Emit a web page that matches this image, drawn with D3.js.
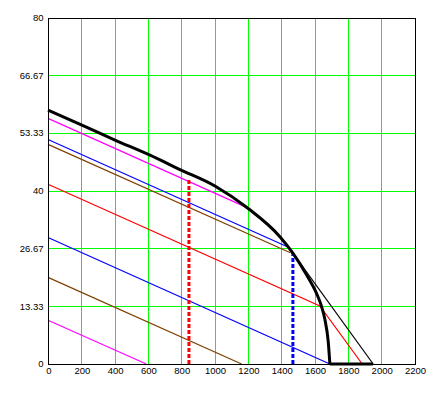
<!DOCTYPE html>
<html><head><meta charset="utf-8">
<script src="https://cdn.jsdelivr.net/npm/d3@7"></script>
<style>
html,body{margin:0;padding:0;background:#fff;}
svg{display:block;}
text{font-family:"Liberation Sans",Arial,sans-serif;font-size:9.5px;fill:#000;}
</style></head>
<body><div id="chart"></div>
<script>
// ---- data ----
const xTicks = [0,200,400,600,800,1000,1200,1400,1600,1800,2000,2200];
const yTickValues = [0, 13.333, 26.667, 40, 53.333, 66.667, 80];
const yTickLabels = ["0","13.33","26.67","40","53.33","66.67","80"];

const frontierX = [0, 200, 402, 612, 792, 1002, 1202, 1392, 1470, 1552, 1612, 1642, 1662, 1682, 1692];
const frontierY = [58.6, 55.2, 51.7, 48.2, 44.9, 41.1, 35.9, 29.4, 25.6, 20.6, 16.3, 13.3, 10.3, 5.2, 0];
const floorX = [1692, 1950];
const floorY = [0, 0];

const magenta1X = [0, 590],   magenta1Y = [10.1, 0];
const brown1X   = [0, 1162],  brown1Y   = [20.0, 0];
const blue1X    = [0, 1692],  blue1Y    = [29.2, 0];
const red1X     = [0, 1632, 1886], red1Y = [41.5, 13.4, 0];
const brown2X   = [0, 1455],  brown2Y   = [50.7, 25.7];
const blue2X    = [0, 1440],  blue2Y    = [51.85, 27.0];
const magenta2X = [0, 1195],  magenta2Y = [56.7, 36.1];
const tangentX  = [1470, 1952], tangentY = [25.6, 0];

const dashRedX = [846, 846],   dashRedY = [0, 42.6];
const dashBlueX = [1470, 1470], dashBlueY = [0, 25.6];

// ---- drawing ----
const W = 446, H = 393;
const L = 48, R = 414.5, T = 17.5, B = 364;
const svg = d3.select("#chart").append("svg").attr("width", W).attr("height", H);
const x = d3.scaleLinear().domain([0, 2200]).range([L, R]);
const y = d3.scaleLinear().domain([0, 80]).range([B, T]);
const zip = (xs, ys) => xs.map((v, i) => [v, ys[i]]);
const line = d3.line().x(d => x(d[0])).y(d => y(d[1]));
const smooth = d3.line().x(d => x(d[0])).y(d => y(d[1])).curve(d3.curveMonotoneX);

// grid
const g = svg.append("g").attr("shape-rendering", "crispEdges");
g.selectAll(".vg").data(xTicks.slice(1, -1)).enter().append("line")
  .attr("x1", d => Math.round(x(d)) + 0.5).attr("x2", d => Math.round(x(d)) + 0.5)
  .attr("y1", y(80)).attr("y2", y(0)).attr("stroke", "#00ff00").attr("stroke-width", 1);
g.selectAll(".hg").data(yTickValues.slice(1, -1)).enter().append("line")
  .attr("y1", d => Math.round(y(d)) + 0.5).attr("y2", d => Math.round(y(d)) + 0.5)
  .attr("x1", x(0)).attr("x2", x(2200)).attr("stroke", "#00ff00").attr("stroke-width", 1);

// iso lines
const series = [
  [magenta1X, magenta1Y, "#ff00ff"],
  [brown1X, brown1Y, "#804000"],
  [blue1X, blue1Y, "#0000ff"],
  [red1X, red1Y, "#ff0000"],
  [brown2X, brown2Y, "#804000"],
  [blue2X, blue2Y, "#0000ff"],
  [magenta2X, magenta2Y, "#ff00ff"],
  [tangentX, tangentY, "#000000"]
];
series.forEach(s => {
  svg.append("path").attr("d", line(zip(s[0], s[1])))
    .attr("fill", "none").attr("stroke", s[2]).attr("stroke-width", 1.2);
});

// dashed verticals
[[dashRedX, dashRedY, "#ff0000"], [dashBlueX, dashBlueY, "#0000ff"]].forEach(s => {
  svg.append("path").attr("d", line(zip(s[0], s[1])))
    .attr("fill", "none").attr("stroke", s[2]).attr("stroke-width", 3)
    .attr("stroke-dasharray", "4,2");
});

// frontier
svg.append("path").attr("d", smooth(zip(frontierX, frontierY)))
  .attr("fill", "none").attr("stroke", "#000").attr("stroke-width", 3);
svg.append("path").attr("d", line(zip(floorX, floorY)))
  .attr("fill", "none").attr("stroke", "#000").attr("stroke-width", 3);

// frame
svg.append("rect").attr("x", Math.round(L) + 0.5).attr("y", Math.round(T) + 0.5)
  .attr("width", Math.round(R) - Math.round(L)).attr("height", Math.round(B) - Math.round(T))
  .attr("fill", "none").attr("stroke", "#000").attr("stroke-width", 1)
  .attr("shape-rendering", "crispEdges");

// labels
svg.selectAll(".xl").data(xTicks).enter().append("text")
  .attr("x", d => x(d) + 1).attr("y", 374).attr("text-anchor", "middle").text(d => d);
svg.selectAll(".yl").data(yTickValues).enter().append("text")
  .attr("x", 43.5).attr("y", d => y(d) + 3.3).attr("text-anchor", "end")
  .text((d, i) => yTickLabels[i]);
</script></body></html>
